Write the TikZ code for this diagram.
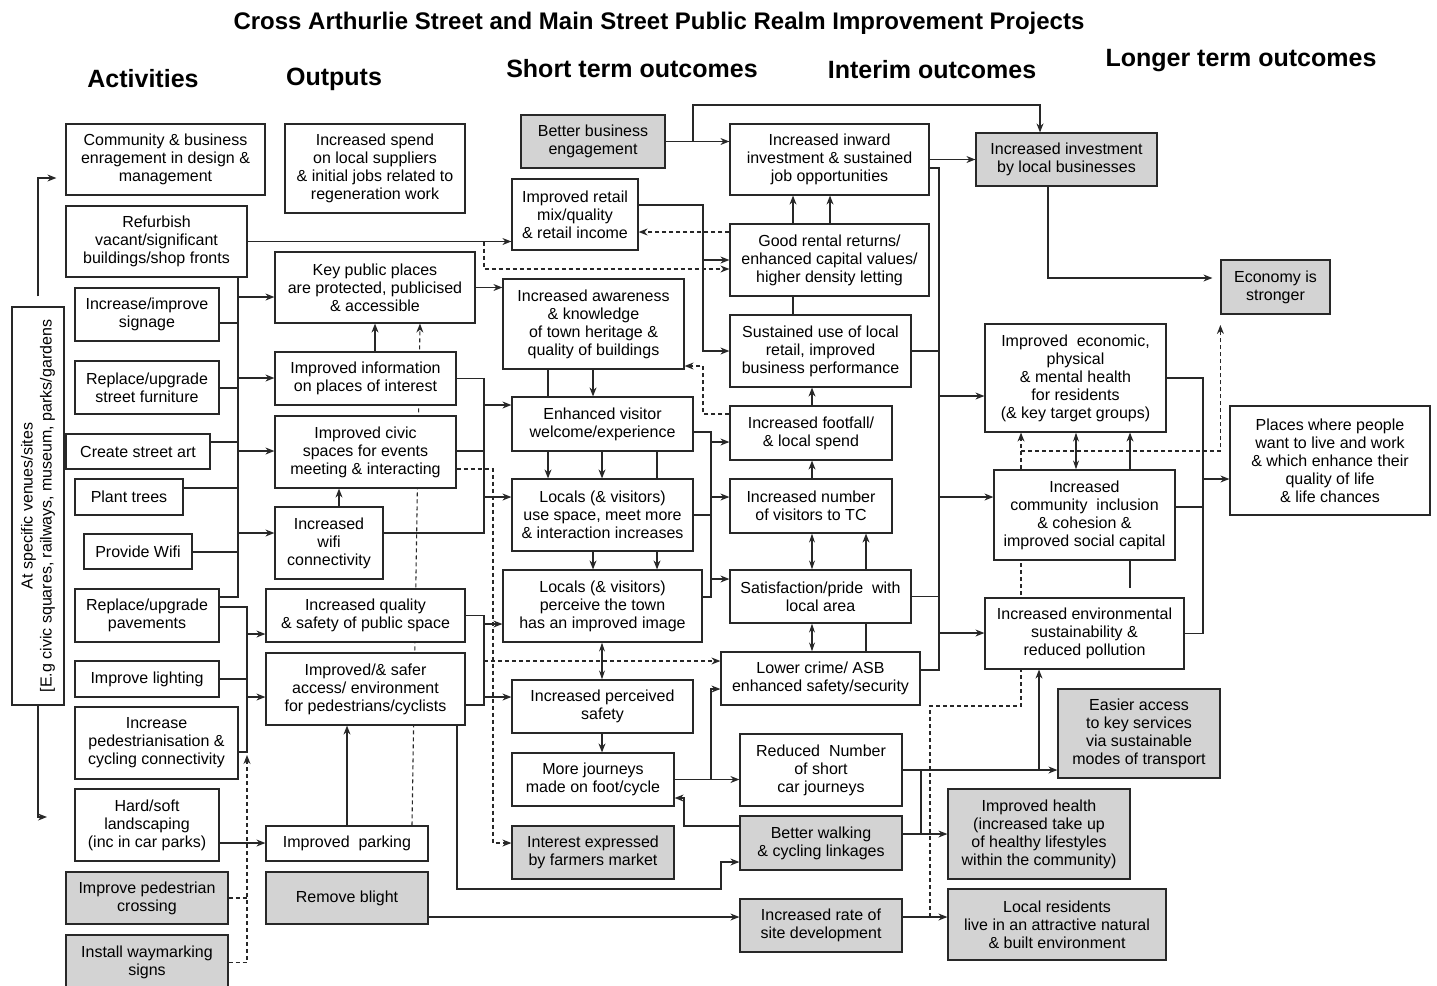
\documentclass[tikz,border=0pt]{standalone}
\usepackage{fontspec}
\setmainfont{Liberation Sans}
\usetikzlibrary{arrows.meta, backgrounds}
\definecolor{boxGray}{RGB}{211, 211, 211}
\definecolor{lineCol}{RGB}{40, 40, 40}
\tikzset{myBox/.style={draw=lineCol, line width=1.2pt, fill=white, inner sep=0pt, align=center, font=\fontsize{16}{18}\selectfont}}
\tikzset{myGrayBox/.style={myBox, fill=boxGray}}
\tikzset{corners/.style n args={4}{minimum width={(#3-#1)*1pt}, minimum height={(#4-#2)*1pt}, at={({(#1+#3)/2},{(#2+#4)/2})}}}
\tikzset{myLine/.style={draw=lineCol, line width=1.1pt}}
\tikzset{myArrow/.style={myLine, -{Stealth[length=9pt,width=7pt]}}}
\tikzset{myBothArrow/.style={myLine, {Stealth[length=9pt,width=6pt]}-{Stealth[length=9pt,width=6pt]}}}
\tikzset{myDashLine/.style={myLine, dash pattern=on 4pt off 3pt}}
\tikzset{myDashArrow/.style={myArrow, dash pattern=on 4pt off 3pt}}
\tikzset{myHead/.style={font=\bfseries\fontsize{25}{28}\selectfont}}

\begin{document}
\begin{tikzpicture}[x=1pt, y=-1pt]
	\useasboundingbox (0,0) rectangle (1437,985);

	% headings
	\node[font=\bfseries\fontsize{24}{28}\selectfont] (title) at (659,23) {Cross Arthurlie Street and Main Street Public Realm Improvement Projects};
	\node[myHead] (hAct) at (143,79) {Activities};
	\node[myHead] (hOut) at (334,79) {Outputs};
	\node[myHead] (hShort) at (632,69) {Short term outcomes};
	\node[myHead] (hInt) at (932,70) {Interim outcomes};
	\node[myHead] (hLong) at (1241,61) {Longer term outcomes};

	% activities
	\node[myBox, corners={12}{307}{64}{705}] (venues) {};
	\node[rotate=90, align=center, font=\fontsize{16}{19}\selectfont] (venuesTxt) at (venues.center) {At specific venues/sites\\{[}E.g civic squares, railways, museum, parks/gardens};
	\node[myBox, corners={66}{124}{265}{195}] (comm) {Community \& business\\enragement in design \&\\management};
	\node[myBox, corners={66}{206}{247}{277}] (refurb) {Refurbish\\vacant/significant\\buildings/shop fronts};
	\node[myBox, corners={75}{288}{219}{341}] (sign) {Increase/improve\\signage};
	\node[myBox, corners={75}{361}{219}{414}] (furn) {Replace/upgrade\\street furniture};
	\node[myBox, corners={66}{434}{210}{469}] (art) {Create street art};
	\node[myBox, corners={75}{479}{183}{515}] (trees) {Plant trees};
	\node[myBox, corners={84}{534}{192}{569}] (wifi) {Provide Wifi};
	\node[myBox, corners={75}{589}{219}{642}] (pave) {Replace/upgrade\\pavements};
	\node[myBox, corners={75}{661}{219}{697}] (light) {Improve lighting};
	\node[myBox, corners={75}{707}{238}{779}] (ped) {Increase\\pedestrianisation \&\\cycling connectivity};
	\node[myBox, corners={75}{789}{219}{861}] (land) {Hard/soft\\landscaping\\(inc in car parks)};
	\node[myGrayBox, corners={66}{872}{228}{924}] (cross) {Improve pedestrian\\crossing};
	\node[myGrayBox, corners={66}{935}{228}{990}] (waym) {Install waymarking\\signs};

	% outputs
	\node[myBox, corners={285}{124}{465}{213}] (spend) {Increased spend\\on local suppliers\\\& initial jobs related to\\regeneration work};
	\node[myBox, corners={275}{252}{475}{323}] (keypl) {Key public places\\are protected, publicised\\\& accessible};
	\node[myBox, corners={275}{352}{456}{405}] (info) {Improved information\\on places of interest};
	\node[myBox, corners={275}{416}{456}{488}] (civic) {Improved civic\\spaces for events\\meeting \& interacting};
	\node[myBox, corners={275}{507}{383}{579}] (wific) {Increased\\wifi\\connectivity};
	\node[myBox, corners={266}{589}{465}{642}] (qual) {Increased quality\\\& safety of public space};
	\node[myBox, corners={266}{653}{465}{725}] (safer) {Improved/\& safer\\access/ environment\\for pedestrians/cyclists};
	\node[myBox, corners={266}{826}{428}{861}] (park) {Improved~~parking};
	\node[myGrayBox, corners={266}{872}{428}{924}] (blight) {Remove blight};

	% short term outcomes
	\node[myGrayBox, corners={521}{115}{665}{168}] (bizeng) {Better business\\engagement};
	\node[myBox, corners={512}{179}{638}{250}] (retail) {Improved retail\\mix/quality\\\& retail income};
	\node[myBox, corners={503}{279}{684}{369}] (aware) {Increased awareness\\\& knowledge\\of town heritage \&\\quality of buildings};
	\node[myBox, corners={512}{397}{693}{451}] (welc) {Enhanced visitor\\welcome/experience};
	\node[myBox, corners={512}{479}{693}{551}] (meet) {Locals (\& visitors)\\use space, meet more\\\& interaction increases};
	\node[myBox, corners={503}{570}{702}{642}] (image) {Locals (\& visitors)\\perceive the town\\has an improved image};
	\node[myBox, corners={512}{680}{693}{733}] (psafe) {Increased perceived\\safety};
	\node[myBox, corners={512}{753}{674}{806}] (journ) {More journeys\\made on foot/cycle};
	\node[myGrayBox, corners={512}{826}{674}{879}] (farm) {Interest expressed\\by farmers market};

	% interim outcomes
	\node[myBox, corners={730}{124}{929}{195}] (inward) {Increased inward\\investment \& sustained\\job opportunities};
	\node[myBox, corners={730}{224}{929}{296}] (rental) {Good rental returns/\\enhanced capital values/\\higher density letting};
	\node[myBox, corners={730}{315}{911}{387}] (sustain) {Sustained use of local\\retail, improved\\business performance};
	\node[myBox, corners={730}{406}{892}{460}] (foot) {Increased footfall/\\\& local spend};
	\node[myBox, corners={730}{479}{892}{533}] (visit) {Increased number\\of visitors to TC};
	\node[myBox, corners={730}{570}{911}{623}] (pride) {Satisfaction/pride~~with\\local area};
	\node[myBox, corners={721}{652}{920}{705}] (crime) {Lower crime/ ASB\\enhanced safety/security};
	\node[myBox, corners={740}{734}{902}{806}] (cars) {Reduced~~Number\\of short\\car journeys};
	\node[myGrayBox, corners={740}{816}{902}{870}] (walk) {Better walking\\\& cycling linkages};
	\node[myGrayBox, corners={740}{899}{902}{952}] (sited) {Increased rate of\\site development};

	% longer term outcomes
	\node[myGrayBox, corners={976}{133}{1157}{186}] (invest) {Increased investment\\by local businesses};
	\node[myGrayBox, corners={1221}{260}{1330}{314}] (econ) {Economy is\\stronger};
	\node[myBox, corners={985}{324}{1166}{432}] (health) {Improved~~economic,\\physical\\\& mental health\\for residents\\(\& key target groups)};
	\node[myBox, corners={994}{470}{1175}{560}] (commun) {Increased\\community~~inclusion\\\& cohesion \&\\improved social capital};
	\node[myBox, corners={985}{598}{1184}{669}] (envir) {Increased environmental\\sustainability \&\\reduced pollution};
	\node[myBox, corners={1230}{406}{1430}{515}] (places) {Places where people\\want to live and work\\\& which enhance their\\quality of life\\\& life chances};
	\node[myGrayBox, corners={1058}{689}{1220}{778}] (access) {Easier access\\to key services\\via sustainable\\modes of transport};
	\node[myGrayBox, corners={948}{789}{1130}{879}] (ihealth) {Improved health\\(increased take up\\of healthy lifestyles\\within the community)};
	\node[myGrayBox, corners={948}{889}{1166}{960}] (resid) {Local residents\\live in an attractive natural\\\& built environment};

	% bus lines
	\coordinate (busAct) at (238,0);
	\coordinate (busPave) at (247,0);
	\coordinate (busOut) at (484,0);
	\coordinate (busRetail) at (703,0);
	\coordinate (busShort) at (711,0);
	\coordinate (busInt) at (939,0);
	\coordinate (busLong) at (1203,0);

	% activities -> outputs
	\draw[myArrow] ([yshift=10pt]venues.north) |- ([xshift=-9pt]comm.west |- 0,178);
	\draw[myArrow] (venues.south) |- (47,817);
	\draw[myLine] (refurb.south -| busAct) -- (busAct |- 0,597) -- (pave.east |- 0,597);
	\foreach \nd/\yy in {sign/323, furn/388, art/442, trees/488, wifi/552}
		\draw[myLine] (\nd.east |- 0,\yy) -- (busAct |- 0,\yy);
	\foreach \nd/\yy in {keypl/297, info/378, civic/451, wific/533}
		\draw[myArrow] (busAct |- 0,\yy) -- (\nd.west |- 0,\yy);
	\draw[myLine] (pave.east |- 0,607) -| (busPave |- 0,752) -- (ped.east |- 0,752);
	\draw[myLine] (light.east) -- (light.east -| busPave);
	\draw[myArrow] (busPave |- 0,634) -- (qual.west |- 0,634);
	\draw[myArrow] (busPave |- 0,697) -- (safer.west |- 0,697);
	\draw[myDashLine] (cross.east) -- (cross.east -| busPave);
	\draw[myDashArrow] (waym.east) -| (busPave |- 0,755);
	\draw[myArrow] (land.east |- 0,843) -- (park.west |- 0,843);
	\draw[myArrow] (refurb.east) -- (refurb.east -| retail.west);
	\draw[myDashArrow] (refurb.east -| busOut) |- (rental.west |- 0,269);

	% outputs -> short term
	\draw[myArrow] (info.north -| 375,0) -- (keypl.south -| 375,0);
	\draw[myArrow] (wific.north -| 339,0) -- (civic.south -| 339,0);
	\draw[myArrow] (park.north -| 347,0) -- (safer.south -| 347,0);
	\draw[myArrow] (keypl.east) -- (keypl.east -| aware.west);
	\draw[myLine] (info.east) -- (info.east -| busOut) -- (busOut |- 0,533) -- (wific.east |- 0,533);
	\draw[myLine] (civic.east |- 0,451) -- (busOut |- 0,451);
	\draw[myArrow] (busOut |- 0,405) -- (welc.west |- 0,405);
	\draw[myArrow] (busOut |- 0,497) -- (meet.west |- 0,497);
	\draw[myLine] (qual.east) -| (busOut |- 0,705) -- (safer.east |- 0,705);
	\draw[myArrow] (busOut |- 0,624) -- (image.west |- 0,624);
	\draw[myArrow] (busOut |- 0,697) -- (psafe.west |- 0,697);
	\draw[myDashArrow] (busOut |- 0,661) -- (crime.west |- 0,661);
	\draw[myDashArrow] (civic.east |- 0,469) -| (493,843) -- (farm.west |- 0,843);
	\draw[myArrow] (safer.south -| 457,0) |- (721,889) |- (walk.west |- 0,862);
	\draw[myArrow] (blight.east |- 0,917) -- (sited.west |- 0,917);

	% short term
	\draw[myArrow] (bizeng.east) -- (bizeng.east -| inward.west);
	\draw[myArrow] (bizeng.east) -| (693,105) -| (invest.north -| 1040,0);
	\draw[myArrow] (retail.east |- 0,205) -| (busRetail |- sustain.west) -- (sustain.west);
	\draw[myArrow] (busRetail |- 0,260) -- (rental.west |- 0,260);
	\draw[myDashArrow] (rental.west |- 0,232) -- (retail.east |- 0,232);
	\draw[myArrow] (aware.south -| 593,0) -- (welc.north -| 593,0);
	\draw[myLine] (aware.south -| 548,0) -- (welc.north -| 548,0);
	\draw[myDashArrow] (foot.west |- 0,414) -| (busRetail |- 0,366) -- (aware.east |- 0,366);
	\foreach \xx in {548,602}
		\draw[myArrow] (welc.south -| \xx,0) -- (meet.north -| \xx,0);
	\draw[myLine] (welc.south -| 657,0) -- (meet.north -| 657,0);
	\foreach \xx in {593,657}
		\draw[myArrow] (meet.south -| \xx,0) -- (image.north -| \xx,0);
	\draw[myBothArrow] (image.south -| 602,0) -- (psafe.north -| 602,0);
	\draw[myArrow] (psafe.south -| 602,0) -- (journ.north -| 602,0);
	\draw[myLine] (welc.east |- 0,432) -| (busShort |- 0,597) -- (image.east |- 0,597);
	\draw[myLine] (meet.east) -- (meet.east -| busShort);
	\foreach \nd/\yy in {foot/442, visit/497, pride/579}
		\draw[myArrow] (busShort |- 0,\yy) -- (\nd.west |- 0,\yy);
	\draw[myArrow] (journ.east) -- (journ.east -| cars.west);
	\draw[myArrow] (journ.east -| busShort) |- (crime.west |- 0,689);
	\draw[myArrow] (walk.west |- 0,826) -| (684,798) -- (journ.east |- 0,798);

	% interim
	\foreach \xx in {793,830}
		\draw[myArrow] (rental.north -| \xx,0) -- (inward.south -| \xx,0);
	\draw[myLine] (rental.south -| 793,0) -- (sustain.north -| 793,0);
	\draw[myArrow] (foot.north -| 812,0) -- (sustain.south -| 812,0);
	\draw[myArrow] (visit.north -| 812,0) -- (foot.south -| 812,0);
	\draw[myBothArrow] (pride.north -| 812,0) -- (visit.south -| 812,0);
	\draw[myArrow] (pride.north -| 866,0) -- (visit.south -| 866,0);
	\draw[myBothArrow] (pride.south -| 812,0) -- (crime.north -| 812,0);
	\draw[myLine] (pride.south -| 866,0) -- (crime.north -| 866,0);
	\draw[myLine] (inward.east |- 0,168) -| (busInt |- 0,670) -- (crime.east |- 0,670);
	\foreach \nd in {sustain, pride}
		\draw[myLine] (\nd.east) -- (\nd.east -| busInt);
	\foreach \nd/\yy in {health/396, commun/497, envir/633}
		\draw[myArrow] (busInt |- 0,\yy) -- (\nd.west |- 0,\yy);
	\draw[myArrow] (inward.east) -- (inward.east -| invest.west);
	\draw[myArrow] (cars.east) -- (cars.east -| access.west);
	\draw[myArrow] (cars.east -| 1039,0) -- (envir.south -| 1039,0);
	\draw[myLine] (cars.east -| 921,0) -- (921,834);
	\draw[myArrow] (walk.east |- 0,834) -- (ihealth.west |- 0,834);
	\draw[myArrow] (sited.east |- 0,917) -- (resid.west |- 0,917);

	% longer term
	\draw[myArrow] (invest.south -| 1048,0) |- ([xshift=-8pt]econ.west |- 0,278);
	\draw[myBothArrow] (commun.north -| 1076,0) -- (health.south -| 1076,0);
	\draw[myArrow] (commun.north -| 1130,0) -- (health.south -| 1130,0);
	\draw[myLine] (commun.south -| 1130,0) -- (1130,588);
	\draw[myLine] (health.east) -| (busLong |- envir.east) -- (envir.east);
	\draw[myLine] (commun.east |- 0,507) -- (busLong |- 0,507);
	\draw[myArrow] (busLong |- 0,479) -- (places.west |- 0,479);

	% dashed links running behind boxes
	\begin{scope}[on background layer]
		\draw[myDashArrow] (park.north -| 412,0) -- (keypl.south -| 420,0);
		\draw[myDashArrow] (930,917) |- (1021,706) -- (health.south -| 1021,0);
		\draw[myDashArrow] (1021,451) -| (econ.south west |- 0,325);
	\end{scope}
\end{tikzpicture}
\end{document}
